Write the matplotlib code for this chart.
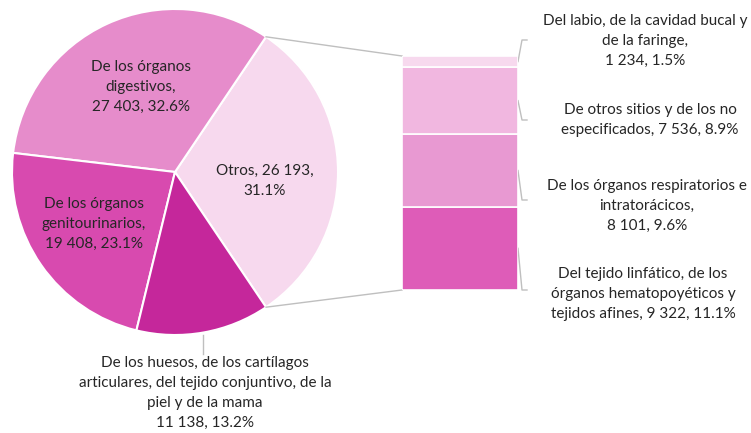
import numpy as np
import matplotlib
matplotlib.use("Agg")
import matplotlib.pyplot as plt

plt.rcParams['font.family'] = ['Lato', 'DejaVu Sans']

# pie data (order counter-clockwise starting at "Otros")
pie_names = ["Otros", "De los órganos\ndigestivos", "De los órganos\ngenitourinarios",
             "De los huesos, de los cartílagos\narticulares, del tejido conjuntivo, de la\npiel y de la mama"]
pie_values = [26193, 27403, 19408, 11138]
pie_pcts = ["31.1%", "32.6%", "23.1%", "13.2%"]
pie_colors = ["#F7D9EE", "#E68CCB", "#D84AAF", "#C5279B"]

# bar data ("Otros" split), bottom to top
bar_names = ["Del tejido linfático, de los\nórganos hematopoyéticos y\ntejidos afines",
             "De los órganos respiratorios e\nintratorácicos,\n",
             "De otros sitios y de los no\nespecificados",
             "Del labio, de la cavidad bucal y\nde la faringe,\n"]
bar_values = [9322, 8101, 7536, 1234]
bar_pcts = ["11.1%", "9.6%", "8.9%", "1.5%"]
bar_colors = ["#DE5CB8", "#E899D2", "#F1B7E0", "#F7D9EE"]


def fmt(v):
    return f"{v:,}".replace(",", " ")


W, H = 751, 433
fig = plt.figure(figsize=(W / 100, H / 100), dpi=100)
ax = fig.add_axes([0, 0, 1, 1])

cx, cy, r = 175, 172, 163
txt_col = "#262626"
line_col = "#BFBFBF"
ls = 1.55

# y axis is inverted, so clockwise in data = counter-clockwise on screen
start = 360 * pie_values[0] / sum(pie_values) / 2
wedges, _ = ax.pie(pie_values, colors=pie_colors, startangle=start, counterclock=False,
                   center=(cx, cy), radius=r, frame=True,
                   wedgeprops=dict(edgecolor="white", linewidth=1.5))
ax.set_xlim(0, W)
ax.set_ylim(H, 0)
ax.axis("off")

# labels inside the pie
inner_pos = [(265, 181), (141, 87), (94, 224)]
for i in range(3):
    if i == 0:
        s = f"{pie_names[i]}, {fmt(pie_values[i])},\n{pie_pcts[i]}"
    else:
        s = f"{pie_names[i]},\n{fmt(pie_values[i])}, {pie_pcts[i]}"
    ax.text(inner_pos[i][0], inner_pos[i][1], s, ha="center", va="center", fontsize=11,
            color=txt_col, linespacing=ls)

# huesos label below the pie
ax.plot([203, 203], [cy + r, 354], color=line_col, lw=1)
ax.text(205, 393, f"{pie_names[3]}\n{fmt(pie_values[3])}, {pie_pcts[3]}", ha="center", va="center",
        fontsize=11, color=txt_col, linespacing=ls)

# bar of "Otros"
bx0, bx1, by0, by1 = 402, 518, 56, 290
bax = fig.add_axes([bx0 / W, 1 - by1 / H, (bx1 - bx0) / W, (by1 - by0) / H])
bottoms = np.concatenate([[0], np.cumsum(bar_values)[:-1]])
bax.bar(0, bar_values, bottom=bottoms, width=1, color=bar_colors, edgecolor="white", linewidth=1.2)
bax.set_xlim(-0.5, 0.5)
bax.set_ylim(0, sum(bar_values))
bax.axis("off")

# connecting lines pie -> bar (theta1 is the upper edge on screen)
for ang, by in [(wedges[0].theta1, by0), (wedges[0].theta2, by1)]:
    a = np.deg2rad(ang)
    ax.plot([cx + r * np.cos(a), bx0], [cy + r * np.sin(a), by], color=line_col, lw=1)

# bar labels with leader lines
scale = (by1 - by0) / sum(bar_values)
label_y = [290, 200, 120, 40]
text_y = [294, 206, 120, 41]
label_x = [643, 647, 650, 645]
for i in range(len(bar_values)):
    seg_mid = by1 - (bottoms[i] + bar_values[i] / 2) * scale
    ax.plot([bx1, 522, 527], [seg_mid, label_y[i], label_y[i]], color=line_col, lw=1)
    name = bar_names[i]
    if name.endswith("\n"):
        s = f"{name}{fmt(bar_values[i])}, {bar_pcts[i]}"
    else:
        s = f"{name}, {fmt(bar_values[i])}, {bar_pcts[i]}"
    ax.text(label_x[i], text_y[i], s, ha="center", va="center", fontsize=11,
            color=txt_col, linespacing=ls)

fig.savefig("out.png", dpi=100)
